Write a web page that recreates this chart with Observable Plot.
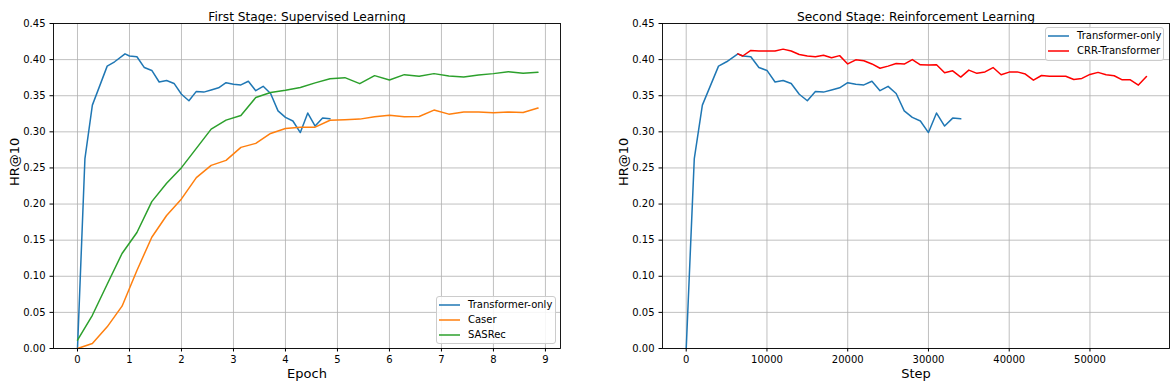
<!DOCTYPE html>
<html><head><meta charset="utf-8">
<script src="https://cdn.jsdelivr.net/npm/d3@7"></script>
<script src="https://cdn.jsdelivr.net/npm/@observablehq/plot@0.6"></script>
<style>
body{margin:0;background:#fff;font-family:"DejaVu Sans",sans-serif;}
#wrap{position:relative;width:1176px;height:390px;display:flex;}
.legend{position:absolute;background:rgba(255,255,255,0.85);border:1px solid #cccccc;border-radius:3px;font-size:10px;color:#000;box-sizing:border-box;padding:0 3px 0 2px;font-family:"DejaVu Sans",sans-serif;}
.row{display:flex;align-items:center;height:15px;white-space:nowrap;}
.row svg{margin-right:7px;flex:none;}
</style></head><body><div id="wrap"></div>
<script>
// ---- data ----
const yTicks = [0, 0.05, 0.10, 0.15, 0.20, 0.25, 0.30, 0.35, 0.40, 0.45];
const epochTicks = [0, 1, 2, 3, 4, 5, 6, 7, 8, 9];
const stepTicks = [0, 10000, 20000, 30000, 40000, 50000];

// Transformer-only (shared by both panels)
const transformerStep = [0, 1000, 2000, 3000, 4000, 5000, 6400, 7000, 8000, 9000, 10000, 11000, 12000, 13000, 14000, 15000, 16000, 17000, 18000, 19000, 20000, 21000, 22000, 23000, 24000, 25000, 26000, 27000, 28000, 29000, 30000, 31000, 32000, 33000, 34000];
const transformerEpoch = [0, 0.143, 0.286, 0.429, 0.571, 0.714, 0.914, 1.0, 1.143, 1.286, 1.429, 1.571, 1.714, 1.857, 2.0, 2.143, 2.286, 2.429, 2.571, 2.714, 2.857, 3.0, 3.143, 3.286, 3.429, 3.571, 3.714, 3.857, 4.0, 4.143, 4.286, 4.429, 4.571, 4.714, 4.857];
const transformerHR = [0, 0.263, 0.337, 0.364, 0.391, 0.397, 0.408, 0.405, 0.404, 0.389, 0.385, 0.369, 0.371, 0.367, 0.352, 0.343, 0.356, 0.355, 0.358, 0.361, 0.368, 0.366, 0.365, 0.370, 0.357, 0.363, 0.353, 0.329, 0.320, 0.315, 0.299, 0.326, 0.308, 0.319, 0.318];

// Baselines (first stage)
const baselineEpoch = [0, 0.286, 0.571, 0.857, 1.143, 1.429, 1.714, 2.0, 2.286, 2.571, 2.857, 3.143, 3.429, 3.714, 4.0, 4.286, 4.571, 4.857, 5.143, 5.429, 5.714, 6.0, 6.286, 6.571, 6.857, 7.143, 7.429, 7.714, 8.0, 8.286, 8.571, 8.857];
const caserHR = [0, 0.007, 0.030, 0.0586, 0.108, 0.1541, 0.1841, 0.2071, 0.2366, 0.2536, 0.2605, 0.2785, 0.284, 0.2978, 0.3047, 0.3065, 0.3065, 0.316, 0.3167, 0.3176, 0.3208, 0.3231, 0.3208, 0.3213, 0.3301, 0.3245, 0.3273, 0.3273, 0.3264, 0.3273, 0.3269, 0.3329];
const sasrecHR = [0.0115, 0.046, 0.089, 0.1316, 0.1606, 0.2034, 0.2287, 0.2504, 0.2771, 0.3038, 0.3162, 0.3227, 0.3475, 0.3544, 0.3576, 0.3613, 0.3678, 0.3736, 0.375, 0.3667, 0.3778, 0.3718, 0.3792, 0.3769, 0.3806, 0.3773, 0.3759, 0.3787, 0.3806, 0.3833, 0.381, 0.3824];

// CRR-Transformer (second stage)
const crrStep = [6400, 7000, 8000, 9000, 10000, 11000, 12000, 13000, 14000, 15000, 16000, 17000, 18000, 19000, 20000, 21000, 22000, 23000, 24000, 25000, 26000, 27000, 28000, 29000, 30000, 31000, 32000, 33000, 34000, 35000, 36000, 37000, 38000, 39000, 40000, 41000, 42000, 43000, 44000, 45000, 46000, 47000, 48000, 49000, 50000, 51000, 52000, 53000, 54000, 55000, 56000, 57000];
const crrHR = [0.408, 0.405, 0.4127, 0.412, 0.4118, 0.4118, 0.4145, 0.412, 0.407, 0.405, 0.404, 0.406, 0.4025, 0.4055, 0.394, 0.3997, 0.3985, 0.394, 0.388, 0.391, 0.3947, 0.3938, 0.400, 0.3928, 0.3924, 0.3928, 0.3817, 0.3845, 0.3758, 0.3855, 0.381, 0.383, 0.389, 0.379, 0.3827, 0.383, 0.380, 0.3716, 0.378, 0.377, 0.377, 0.377, 0.3725, 0.374, 0.3795, 0.3823, 0.379, 0.3776, 0.372, 0.372, 0.3647, 0.3767];

const colors = {"Transformer-only": "#1f77b4", "Caser": "#ff7f0e", "SASRec": "#2ca02c", "CRR-Transformer": "#ff0000"};

// ---- build tables ----
const rows = (xs, ys) => xs.map((x, i) => ({x, y: ys[i]}));
const leftSeries = [
  {name: "Transformer-only", data: rows(transformerEpoch, transformerHR)},
  {name: "Caser", data: rows(baselineEpoch, caserHR)},
  {name: "SASRec", data: rows(baselineEpoch, sasrecHR)}
];
const rightSeries = [
  {name: "Transformer-only", data: rows(transformerStep, transformerHR)},
  {name: "CRR-Transformer", data: rows(crrStep, crrHR)}
];

const gridStyle = {stroke: "#b0b0b0", strokeOpacity: 1, strokeWidth: 0.8};

function panel({xDomain, xTicks, series, title, xLabel, marginLeft, marginRight}) {
  return Plot.plot({
    width: 588, height: 390,
    marginTop: 23, marginBottom: 42, marginLeft, marginRight,
    style: {fontFamily: "DejaVu Sans", fontSize: "10px", color: "black", background: "white", overflow: "visible"},
    x: {domain: xDomain, label: null},
    y: {domain: [0, 0.45], label: null},
    marks: [
      Plot.gridX(xTicks, gridStyle),
      Plot.gridY(yTicks, gridStyle),
      ...series.map(s => Plot.line(s.data, {x: "x", y: "y", stroke: colors[s.name], strokeWidth: 1.5})),
      Plot.frame({stroke: "black", strokeWidth: 0.9}),
      Plot.axisX(xTicks, {tickSize: 3.5, tickPadding: 3.5, tickFormat: d => String(d), label: null, fontSize: 10}),
      Plot.axisY(yTicks, {tickSize: 3.5, tickPadding: 4.5, tickFormat: d3.format(".2f"), label: null, fontSize: 10}),
      Plot.text([title], {text: d => d, frameAnchor: "top", dy: -11.5, fontSize: 12.2, fontWeight: "normal", fill: "black"}),
      Plot.text([xLabel], {text: d => d, frameAnchor: "bottom", dy: 29, fontSize: 13, fill: "black"}),
      Plot.text(["HR@10"], {text: d => d, frameAnchor: "left", dx: -39, rotate: -90, fontSize: 13, fill: "black"})
    ]
  });
}

const wrap = document.getElementById("wrap");
wrap.appendChild(panel({xDomain: [-0.4615, 9.29], xTicks: epochTicks, series: leftSeries,
  title: "First Stage: Supervised Learning", xLabel: "Epoch", marginLeft: 53, marginRight: 28}));
wrap.appendChild(panel({xDomain: [-2937, 59851], xTicks: stepTicks, series: rightSeries,
  title: "Second Stage: Reinforcement Learning", xLabel: "Step", marginLeft: 74, marginRight: 7}));

function legend(series, box) {
  const div = document.createElement("div");
  div.className = "legend";
  Object.assign(div.style, {left: box.left + "px", top: box.top + "px", width: box.width + "px", height: box.height + "px"});
  for (const s of series) {
    const r = document.createElement("div");
    r.className = "row";
    r.innerHTML = `<svg width="22" height="4"><line x1="0" x2="21" y1="2" y2="2" stroke="${colors[s.name]}" stroke-width="1.5"/></svg><span>${s.name}</span>`;
    div.appendChild(r);
  }
  wrap.appendChild(div);
}
legend(leftSeries, {left: 436, top: 296, width: 120, height: 48});
legend(rightSeries, {left: 1045, top: 27, width: 119, height: 34});
</script></body></html>
